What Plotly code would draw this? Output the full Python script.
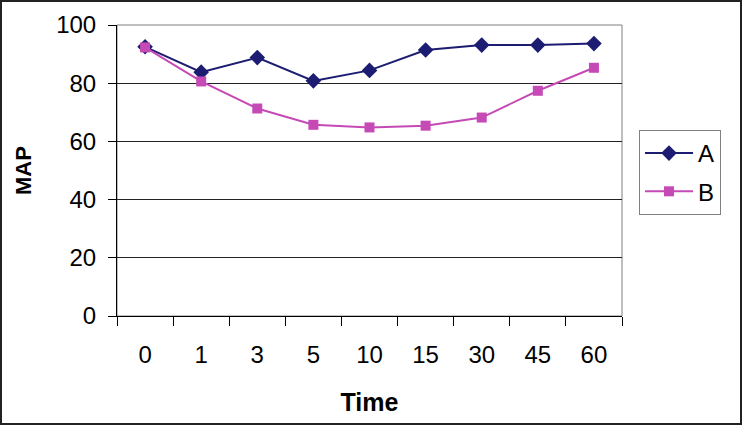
import plotly.graph_objects as go

categories = ["0", "1", "3", "5", "10", "15", "30", "45", "60"]
series_a = [92.5, 83.8, 88.8, 80.8, 84.4, 91.4, 93.1, 93.1, 93.6]
series_b = [92.3, 80.6, 71.3, 65.7, 64.8, 65.4, 68.2, 77.4, 85.3]
y_ticks = [0, 20, 40, 60, 80, 100]

W, H = 742, 425
L, R, T, B = 117, 120, 25, 109
pw, ph = W - L - R, H - T - B

fig = go.Figure()
fig.add_trace(go.Scatter(x=categories, y=series_a, name="A", mode="lines+markers",
                         legendgroup="a",
                         line=dict(color="#1c1c72", width=2),
                         marker=dict(symbol="diamond", size=12, color="#1c1c72")))
fig.add_trace(go.Scatter(x=categories, y=series_b, name="B", mode="lines+markers",
                         legendgroup="b",
                         line=dict(color="#c64ab6", width=2),
                         marker=dict(symbol="square", size=10, color="#c64ab6")))

font = "Liberation Sans, Arial, sans-serif"
fig.update_layout(
    width=W, height=H,
    margin=dict(l=L, r=R, t=T, b=B),
    paper_bgcolor="white", plot_bgcolor="white",
    font=dict(family=font, color="black", size=24),
    showlegend=True,
    legend=dict(x=(639 - L) / pw, xanchor="left", y=1 - (130 - T) / ph, yanchor="top",
                bordercolor="#808080", borderwidth=1, bgcolor="white",
                font=dict(size=24), traceorder="grouped", tracegroupgap=4, itemwidth=48),
    xaxis=dict(type="category", showgrid=False, showline=True, linecolor="black", linewidth=1,
               ticks="outside", tickson="boundaries", ticklen=9, tickcolor="black",
               ticklabelstandoff=17, tickfont=dict(size=24),
               title=dict(text="<b>Time</b>", font=dict(size=25), standoff=26),
               range=[-0.5, 8.5]),
    yaxis=dict(range=[0, 100], tickvals=y_ticks, showgrid=True, gridcolor="#222222", gridwidth=1,
               showline=True, linecolor="black", linewidth=1, ticks="outside", ticklen=8,
               tickcolor="black", ticklabelstandoff=7, tickfont=dict(size=24), zeroline=False,
               title=dict(text="<b>MAP</b>", font=dict(size=22), standoff=18)),
    shapes=[
        dict(type="rect", xref="paper", yref="paper", x0=0, x1=1, y0=0, y1=1,
             line=dict(color="#808080", width=1), layer="below"),
        dict(type="rect", xref="paper", yref="paper",
             x0=-(L - 1) / pw, x1=1 + (R - 1) / pw, y0=-(B - 1) / ph, y1=1 + (T - 1) / ph,
             line=dict(color="#222222", width=2)),
    ],
)

fig.write_html("out.html", config={"displayModeBar": False},
               post_script="document.body.style.margin='0';document.body.style.overflow='hidden';")
